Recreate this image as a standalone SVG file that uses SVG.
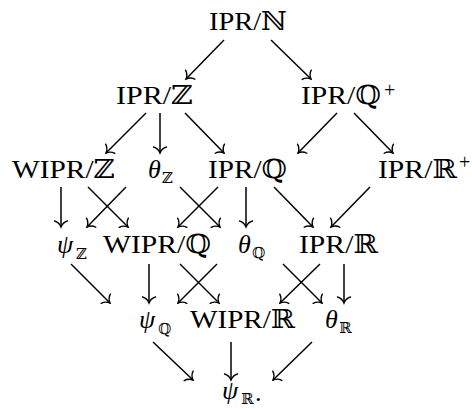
<svg xmlns="http://www.w3.org/2000/svg" width="472" height="409" viewBox="0 0 472 409">
<defs>
<style>
text{font-family:"Liberation Serif","DejaVu Serif",serif;font-size:26px;fill:#000}
.it{font-style:italic}
.sub{font-size:15px}
.sup{font-size:20px}
#edges line{stroke:#000;stroke-width:1.5;fill:none;marker-end:url(#ah)}
</style>
<marker id="ah" viewBox="-9 -8 11 16" markerWidth="11" markerHeight="16" refX="0" refY="0" orient="auto" markerUnits="userSpaceOnUse">
<path d="M-6,-6.5 C-5,-3 -2,-0.8 0,0 C-2,0.8 -5,3 -6,6.5" fill="none" stroke="#000" stroke-width="1.4" stroke-linecap="round"/>
</marker>
</defs>
<rect width="472" height="409" fill="#fff"/>
<g id="edges">
<line x1="224" y1="40" x2="186" y2="79"/>
<line x1="271" y1="40" x2="311" y2="79"/>
<line x1="146" y1="113" x2="106" y2="153"/>
<line x1="160" y1="113" x2="160" y2="153"/>
<line x1="185" y1="113" x2="224" y2="153"/>
<line x1="337" y1="113" x2="298" y2="153"/>
<line x1="354" y1="113" x2="393" y2="153"/>
<line x1="61" y1="187" x2="61" y2="227"/>
<line x1="88" y1="187" x2="128" y2="227"/>
<line x1="126" y1="187" x2="87" y2="227"/>
<line x1="180" y1="187" x2="220" y2="227"/>
<line x1="218" y1="187" x2="178" y2="227"/>
<line x1="246" y1="187" x2="246" y2="227"/>
<line x1="274" y1="187" x2="313" y2="227"/>
<line x1="370" y1="187" x2="331" y2="227"/>
<line x1="71" y1="264" x2="110" y2="303"/>
<line x1="149" y1="264" x2="149" y2="303"/>
<line x1="180" y1="264" x2="219" y2="303"/>
<line x1="217" y1="264" x2="178" y2="303"/>
<line x1="283" y1="264" x2="322" y2="303"/>
<line x1="320" y1="264" x2="280" y2="303"/>
<line x1="344" y1="264" x2="344" y2="303"/>
<line x1="153" y1="342" x2="193" y2="380"/>
<line x1="231" y1="342" x2="231" y2="380"/>
<line x1="312" y1="342" x2="273" y2="380"/>
</g>
<g id="ipr-n"><text x="209" y="30" textLength="78" lengthAdjust="spacingAndGlyphs">IPR/ℕ</text></g>
<g id="ipr-z"><text x="116" y="104" textLength="77" lengthAdjust="spacingAndGlyphs">IPR/ℤ</text></g>
<g id="ipr-qplus"><text x="301" y="104" textLength="80" lengthAdjust="spacingAndGlyphs">IPR/ℚ</text><text class="sup" x="384" y="97">+</text></g>
<g id="wipr-z"><text x="12" y="178" textLength="103" lengthAdjust="spacingAndGlyphs">WIPR/ℤ</text></g>
<g id="theta-z"><text class="it" x="148" y="178">θ</text><text class="sub" x="162" y="183">ℤ</text></g>
<g id="ipr-q"><text x="208" y="178" textLength="79" lengthAdjust="spacingAndGlyphs">IPR/ℚ</text></g>
<g id="ipr-rplus"><text x="378" y="178" textLength="79" lengthAdjust="spacingAndGlyphs">IPR/ℝ</text><text class="sup" x="459" y="169">+</text></g>
<g id="psi-z"><text class="it" x="57" y="253">ψ</text><text class="sub" x="76" y="259">ℤ</text></g>
<g id="wipr-q"><text x="103" y="253" textLength="108" lengthAdjust="spacingAndGlyphs">WIPR/ℚ</text></g>
<g id="theta-q"><text class="it" x="238" y="253">θ</text><text class="sub" x="252" y="258">ℚ</text></g>
<g id="ipr-r"><text x="299" y="253" textLength="79" lengthAdjust="spacingAndGlyphs">IPR/ℝ</text></g>
<g id="psi-q"><text class="it" x="139" y="328">ψ</text><text class="sub" x="158" y="334">ℚ</text></g>
<g id="wipr-r"><text x="190" y="328" textLength="105" lengthAdjust="spacingAndGlyphs">WIPR/ℝ</text></g>
<g id="theta-r"><text class="it" x="325" y="328">θ</text><text class="sub" x="339" y="333">ℝ</text></g>
<g id="psi-r"><text class="it" x="222" y="399">ψ</text><text class="sub" x="241" y="404">ℝ</text><text x="255" y="401">.</text></g>
</svg>
